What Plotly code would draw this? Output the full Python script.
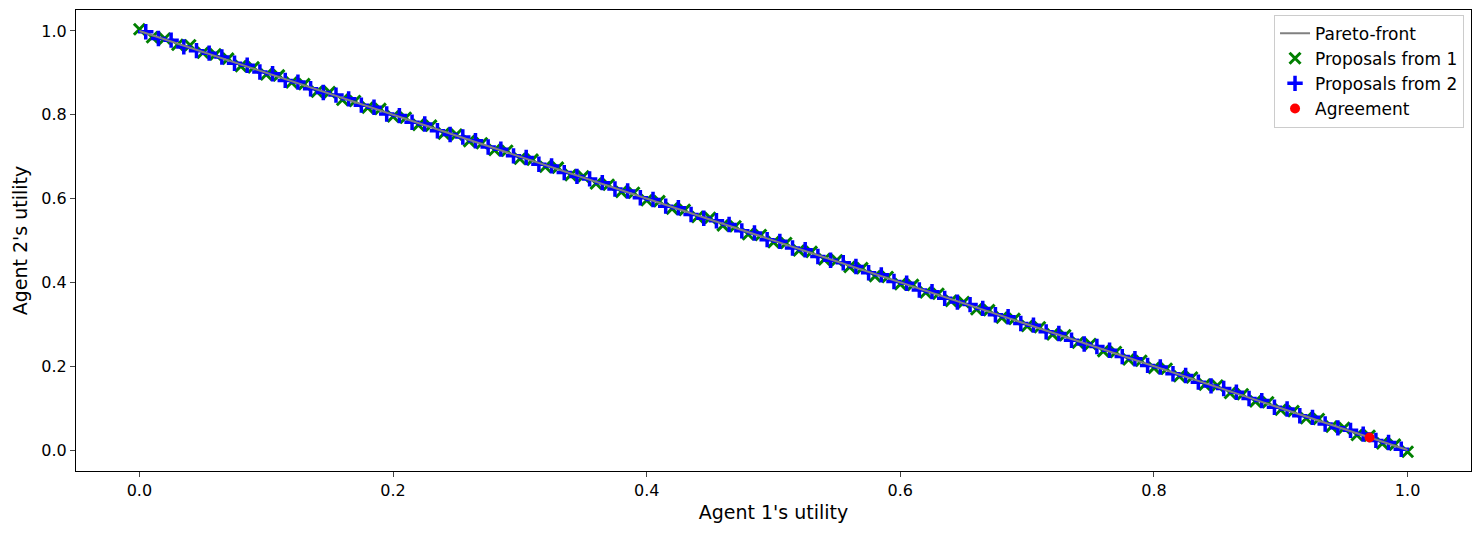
import plotly.graph_objects as go

# Pareto front endpoints
pareto_x = [0.0, 1.0]
pareto_y = [1.0, 0.0]

# proposals from agent 1 (utility of agent 1, utility of agent 2)
prop1_x = [0.00, 0.01, 0.02, 0.03, 0.04, 0.05, 0.06, 0.07, 0.08, 0.09,
           0.10, 0.11, 0.12, 0.13, 0.14, 0.15, 0.16, 0.17, 0.18, 0.19,
           0.20, 0.21, 0.22, 0.23, 0.24, 0.25, 0.26, 0.27, 0.28, 0.29,
           0.30, 0.31, 0.32, 0.33, 0.34, 0.35, 0.36, 0.37, 0.38, 0.39,
           0.40, 0.41, 0.42, 0.43, 0.44, 0.45, 0.46, 0.47, 0.48, 0.49,
           0.50, 0.51, 0.52, 0.53, 0.54, 0.55, 0.56, 0.57, 0.58, 0.59,
           0.60, 0.61, 0.62, 0.63, 0.64, 0.65, 0.66, 0.67, 0.68, 0.69,
           0.70, 0.71, 0.72, 0.73, 0.74, 0.75, 0.76, 0.77, 0.78, 0.79,
           0.80, 0.81, 0.82, 0.83, 0.84, 0.85, 0.86, 0.87, 0.88, 0.89,
           0.90, 0.91, 0.92, 0.93, 0.94, 0.95, 0.96, 0.97, 0.98, 0.99,
           1.00]
prop1_y = [1.004, 0.985, 0.982, 0.967, 0.966, 0.948, 0.944, 0.934, 0.916, 0.913,
           0.896, 0.894, 0.877, 0.873, 0.855, 0.854, 0.836, 0.833, 0.817, 0.814,
           0.796, 0.793, 0.776, 0.774, 0.755, 0.753, 0.737, 0.732, 0.716, 0.714,
           0.695, 0.693, 0.676, 0.674, 0.656, 0.653, 0.636, 0.633, 0.616, 0.614,
           0.596, 0.594, 0.576, 0.573, 0.556, 0.554, 0.536, 0.534, 0.515, 0.513,
           0.496, 0.494, 0.476, 0.473, 0.455, 0.453, 0.437, 0.434, 0.415, 0.413,
           0.396, 0.394, 0.376, 0.373, 0.356, 0.353, 0.336, 0.334, 0.316, 0.313,
           0.296, 0.293, 0.276, 0.274, 0.256, 0.253, 0.236, 0.234, 0.216, 0.213,
           0.196, 0.194, 0.176, 0.173, 0.156, 0.154, 0.136, 0.133, 0.116, 0.114,
           0.096, 0.093, 0.076, 0.074, 0.056, 0.053, 0.036, 0.034, 0.016, 0.013,
           -0.004]

# proposals from agent 2
prop2_x = [0.005, 0.015, 0.025, 0.035, 0.045, 0.055, 0.065, 0.075, 0.085, 0.095,
           0.105, 0.115, 0.125, 0.135, 0.145, 0.155, 0.165, 0.175, 0.185, 0.195,
           0.205, 0.215, 0.225, 0.235, 0.245, 0.255, 0.265, 0.275, 0.285, 0.295,
           0.305, 0.315, 0.325, 0.335, 0.345, 0.355, 0.365, 0.375, 0.385, 0.395,
           0.405, 0.415, 0.425, 0.435, 0.445, 0.455, 0.465, 0.475, 0.485, 0.495,
           0.505, 0.515, 0.525, 0.535, 0.545, 0.555, 0.565, 0.575, 0.585, 0.595,
           0.605, 0.615, 0.625, 0.635, 0.645, 0.655, 0.665, 0.675, 0.685, 0.695,
           0.705, 0.715, 0.725, 0.735, 0.745, 0.755, 0.765, 0.775, 0.785, 0.795,
           0.805, 0.815, 0.825, 0.835, 0.845, 0.855, 0.865, 0.875, 0.885, 0.895,
           0.905, 0.915, 0.925, 0.935, 0.945, 0.955, 0.965, 0.975, 0.985, 0.995]
prop2_y = [0.998, 0.982, 0.978, 0.962, 0.953, 0.947, 0.938, 0.923, 0.918, 0.902,
           0.898, 0.882, 0.878, 0.862, 0.853, 0.847, 0.838, 0.823, 0.818, 0.802,
           0.798, 0.782, 0.778, 0.762, 0.753, 0.747, 0.738, 0.723, 0.718, 0.702,
           0.698, 0.682, 0.678, 0.662, 0.653, 0.647, 0.638, 0.623, 0.618, 0.602,
           0.598, 0.582, 0.578, 0.562, 0.553, 0.547, 0.538, 0.523, 0.518, 0.502,
           0.498, 0.482, 0.478, 0.462, 0.453, 0.447, 0.438, 0.423, 0.418, 0.402,
           0.398, 0.382, 0.378, 0.362, 0.353, 0.347, 0.338, 0.323, 0.318, 0.302,
           0.298, 0.282, 0.278, 0.262, 0.253, 0.247, 0.238, 0.223, 0.218, 0.202,
           0.198, 0.182, 0.178, 0.162, 0.153, 0.147, 0.138, 0.123, 0.118, 0.102,
           0.098, 0.082, 0.078, 0.062, 0.053, 0.047, 0.038, 0.023, 0.018, 0.002]

agreement_x = [0.97]
agreement_y = [0.03]

ticks = [0.0, 0.2, 0.4, 0.6, 0.8, 1.0]
tick_text = ["0.0", "0.2", "0.4", "0.6", "0.8", "1.0"]

fig = go.Figure()
fig.add_trace(go.Scatter(x=prop1_x, y=prop1_y, mode="markers", name="Proposals from 1",
                         marker=dict(symbol="x-thin", size=11, line=dict(color="green", width=3)),
                         legendrank=2))
fig.add_trace(go.Scatter(x=prop2_x, y=prop2_y, mode="markers", name="Proposals from 2",
                         marker=dict(symbol="cross-thin", size=11, line=dict(color="blue", width=3.5)),
                         legendrank=3))
fig.add_trace(go.Scatter(x=pareto_x, y=pareto_y, mode="lines", name="Pareto-front",
                         line=dict(color="gray", width=2), legendrank=1))
fig.add_trace(go.Scatter(x=agreement_x, y=agreement_y, mode="markers", name="Agreement",
                         marker=dict(color="red", size=10), legendrank=4))

axis_style = dict(showgrid=False, zeroline=False, showline=True, linecolor="black",
                  linewidth=1, mirror=True, ticks="outside", ticklen=5,
                  tickvals=ticks, ticktext=tick_text, tickfont=dict(size=16))
fig.update_xaxes(range=[-0.05, 1.05], title=dict(text="Agent 1's utility", font=dict(size=19), standoff=6),
                 **axis_style)
fig.update_yaxes(range=[-0.05, 1.05], title=dict(text="Agent 2's utility", font=dict(size=19), standoff=8),
                 **axis_style)
fig.update_layout(
    width=1481, height=536,
    margin=dict(l=68, r=18, t=2, b=73),
    plot_bgcolor="white", paper_bgcolor="white",
    font=dict(family="DejaVu Sans", color="black"),
    legend=dict(x=0.995, y=0.99, xanchor="right", yanchor="top", tracegroupgap=2,
                bordercolor="#cccccc", borderwidth=1, font=dict(size=17)),
)
fig.write_html("out.html")
